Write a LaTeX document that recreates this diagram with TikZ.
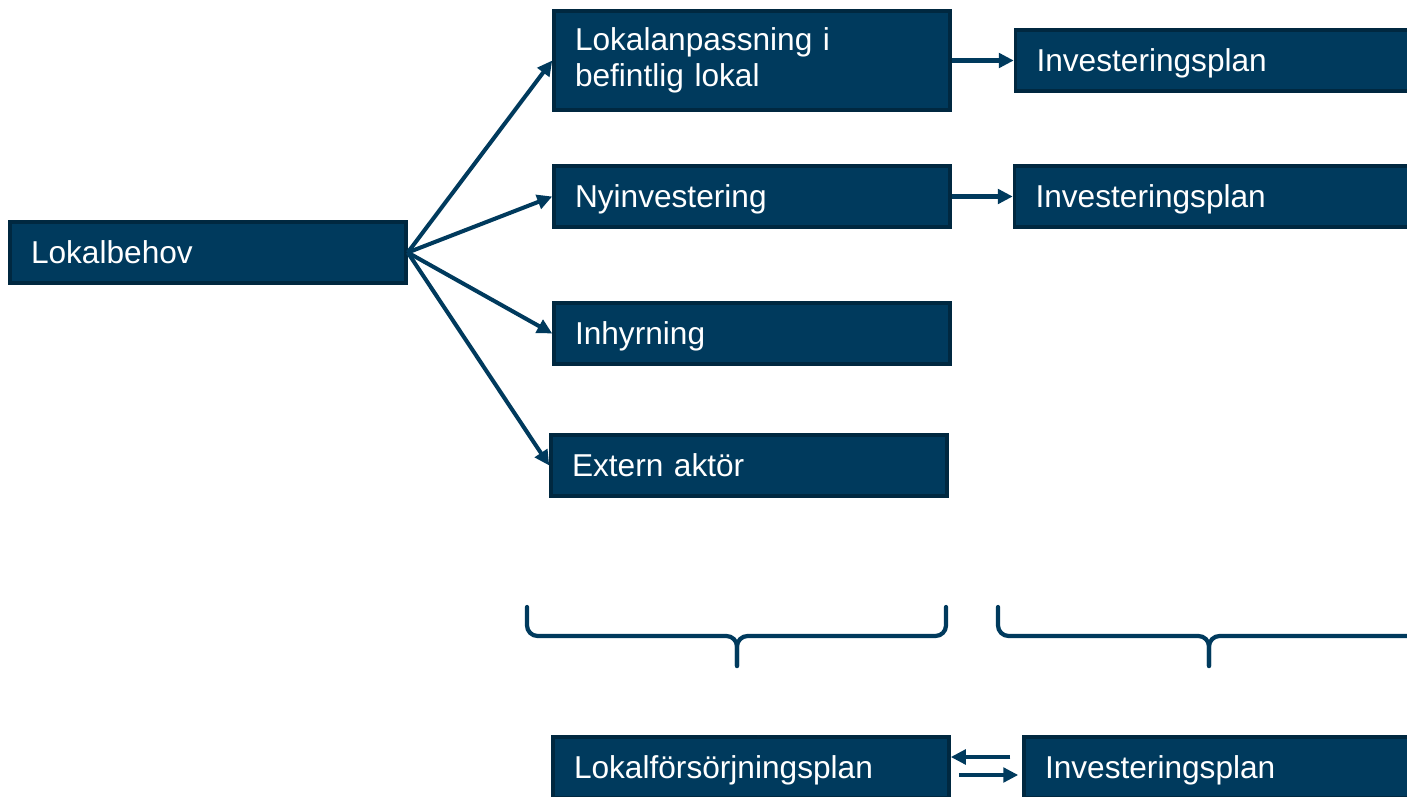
\documentclass[tikz,border=0pt]{standalone}
\usepackage{fontspec}
\setmainfont{Liberation Sans}
\usepackage{xcolor}
\usetikzlibrary{arrows.meta, positioning, shadows}

\definecolor{boxblue}{RGB}{0,58,93}
\definecolor{boxedge}{RGB}{0,40,64}

\begin{document}
\begin{tikzpicture}[
            box/.style={rectangle, draw=boxedge, line width=2pt, fill=boxblue, text=white,
                        text width=7.08cm, inner xsep=0.42cm, align=left, minimum height=1.22cm,
                        font=\fontsize{18}{20.5}\selectfont,
                        drop shadow={opacity=0.2, shadow xshift=0.04cm, shadow yshift=-0.04cm}},
            row/.style={box, text height=17.4pt, text depth=4.5pt},
            arrow/.style={draw=boxblue, line width=2.3pt, -{Triangle[length=3mm, width=2.9mm]}},
            brace/.style={draw=boxblue, line width=2.4pt, rounded corners=6pt, line cap=round}
        ]
            \useasboundingbox (0,0) rectangle (28.14,15.92);

            % Nodes
            \node[row] (need) at (4.16,10.87) {Lokalbehov};
            \node[box, minimum height=1.98cm] (adapt) at (15.04,14.71) {Lokalanpassning i\\befintlig lokal};
            \node[row] (newinv) at (15.04,11.99) {Nyinvestering};
            \node[row] (rent) at (15.04,9.25) {Inhyrning};
            \node[row] (extern) at (14.98,6.61) {Extern aktör};
            \node[row, right=1.24cm of adapt] (plan1) {Investeringsplan};
            \node[row, right=1.22cm of newinv] (plan2) {Investeringsplan};
            \node[row] (supply) at (15.02,0.57) {Lokalförsörjningsplan};
            \node[row] (plan3) at (24.44,0.57) {Investeringsplan};

            % Arrows
            \draw[arrow] (need.east) -- (adapt.west);
            \draw[arrow] (need.east) -- (newinv.west);
            \draw[arrow] (need.east) -- (rent.west);
            \draw[arrow] (need.east) -- (extern.west);
            \draw[arrow] (adapt.east) -- (plan1.west);
            \draw[arrow] (newinv.east) -- (plan2.west);
            \draw[arrow, shorten <=0.24cm] ([yshift=0.21cm]plan3.west) -- ([yshift=0.21cm]supply.east);
            \draw[arrow, shorten <=0.16cm, shorten >=0.08cm] ([yshift=-0.15cm]supply.east) -- ([yshift=-0.15cm]plan3.west);

            % Braces
            \draw[brace] (10.54,3.78) |- (14.74,3.2) -- (14.74,2.6);
            \draw[brace] (18.92,3.78) |- (14.74,3.2) -- (14.74,2.6);
            \draw[brace] (19.96,3.78) |- (24.18,3.2) -- (24.18,2.6);
            \draw[brace] (28.40,3.78) |- (24.18,3.2) -- (24.18,2.6);

        \end{tikzpicture}
\end{document}
